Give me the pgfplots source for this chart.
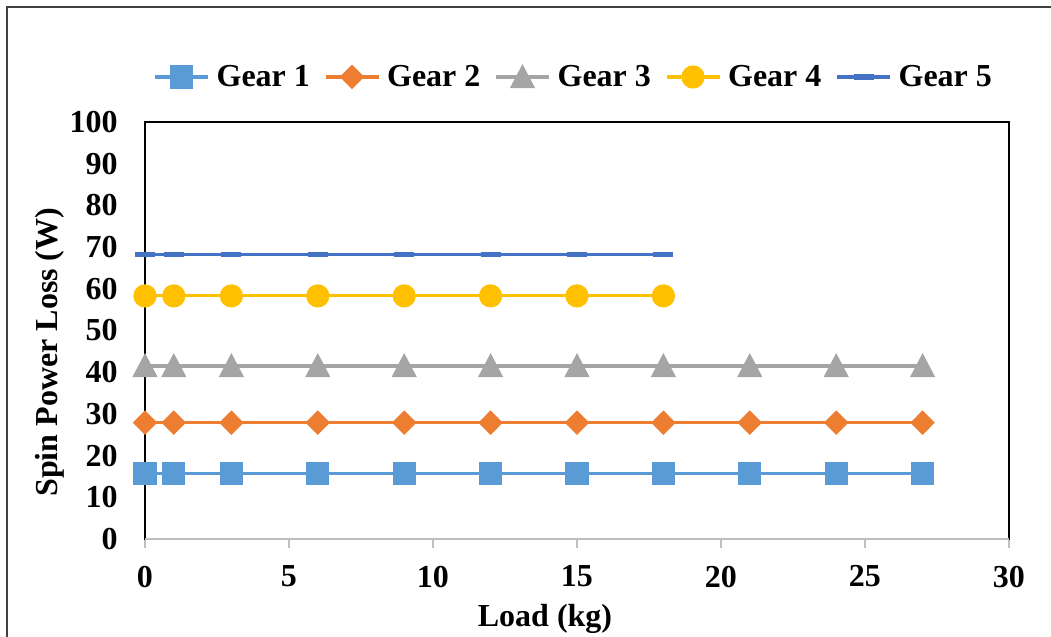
\documentclass[border=0pt]{standalone}
\usepackage{fontspec}
\setmainfont{Liberation Serif}
\usepackage{pgfplots}
\pgfplotsset{compat=1.18}

\definecolor{gearA}{HTML}{5B9BD5}
\definecolor{gearB}{HTML}{ED7D31}
\definecolor{gearC}{HTML}{A5A5A5}
\definecolor{gearD}{HTML}{FFC000}
\definecolor{gearE}{HTML}{4472C4}
\definecolor{framegray}{HTML}{404040}
\definecolor{axisgray}{HTML}{BFBFBF}

\begin{document}
\begin{tikzpicture}
\useasboundingbox (-72.5pt,-49pt) rectangle (453pt,269.5pt);
\begin{axis}[
  at={(0,0)}, anchor=south west,
  scale only axis,
  width=432pt, height=208.5pt,
  xmin=0, xmax=30, ymin=0, ymax=100,
  xtick={0,5,...,30}, ytick={0,10,...,100},
  clip=false,
  axis line style={black, line width=0.8pt},
  tick align=outside,
  xtick pos=bottom, ytick pos=left,
  major tick length=4.5pt,
  xtick style={draw=axisgray, line width=1pt},
  ytick style={draw=none},
  /pgf/number format/assume math mode=true,
  tick label style={font=\fontsize{16}{19}\selectfont\bfseries},
  xticklabel style={anchor=north, inner sep=0pt, yshift=-8.7pt},
  yticklabel style={anchor=east, inner sep=0pt, xshift=-9pt},
  label style={font=\fontsize{16}{19}\selectfont\bfseries},
  xlabel={Load (kg)},
  xlabel style={at={(axis description cs:0.463,0)}, anchor=center, yshift=-40pt},
  ylabel={Spin Power Loss (W)},
  ylabel style={at={(axis description cs:-0.11,0.448)}, anchor=center},
  legend columns=5,
  legend style={
    at={(0.495,1.108)}, anchor=center, draw=none, fill=none,
    font=\fontsize{16}{19}\selectfont\bfseries,
    nodes={inner sep=0pt},
    /tikz/every odd column/.append style={column sep=3.5pt},
    /tikz/every even column/.append style={column sep=7pt},
  },
  legend image code/.code={
    \draw[mark repeat=2, mark phase=2, line width=1.6pt, #1] plot coordinates {(0pt,0pt) (13.25pt,0pt) (26.5pt,0pt)};
  },
  every axis plot/.append style={line width=1.6pt},
]
% Gear 1
\addplot[color=gearA, mark=square*, mark size=5pt, mark options={solid}] coordinates {
  (0,15.8) (1,15.8) (3,15.8) (6,15.8) (9,15.8) (12,15.8) (15,15.8) (18,15.8) (21,15.8) (24,15.8) (27,15.8)};
\addlegendentry{Gear 1}
% Gear 2
\addplot[color=gearB, mark=diamond*, mark size=5pt, mark options={solid, xscale=1.33}] coordinates {
  (0,27.9) (1,27.9) (3,27.9) (6,27.9) (9,27.9) (12,27.9) (15,27.9) (18,27.9) (21,27.9) (24,27.9) (27,27.9)};
\addlegendentry{Gear 2}
% Gear 3
\addplot[color=gearC, mark=triangle*, mark size=5.8pt, mark options={solid, yscale=1.1, yshift=-1.5pt}] coordinates {
  (0,41.5) (1,41.5) (3,41.5) (6,41.5) (9,41.5) (12,41.5) (15,41.5) (18,41.5) (21,41.5) (24,41.5) (27,41.5)};
\addlegendentry{Gear 3}
% Gear 4
\addplot[color=gearD, mark=*, mark size=5pt, mark options={solid}] coordinates {
  (0,58.3) (1,58.3) (3,58.3) (6,58.3) (9,58.3) (12,58.3) (15,58.3) (18,58.3)};
\addlegendentry{Gear 4}
% Gear 5
\addplot[color=gearE, mark=-, mark size=5pt, mark options={solid, line width=2.6pt}] coordinates {
  (0,68.3) (1,68.3) (3,68.3) (6,68.3) (9,68.3) (12,68.3) (15,68.3) (18,68.3)};
\addlegendentry{Gear 5}
% horizontal category axis line
\draw[axisgray, line width=1.2pt] (rel axis cs:0,0) -- (rel axis cs:1,0);
\end{axis}
% chart area border
\draw[framegray, line width=1pt] (-68.75pt,-49pt) -- (-68.75pt,265.75pt) -- (453pt,265.75pt);
\end{tikzpicture}
\end{document}
